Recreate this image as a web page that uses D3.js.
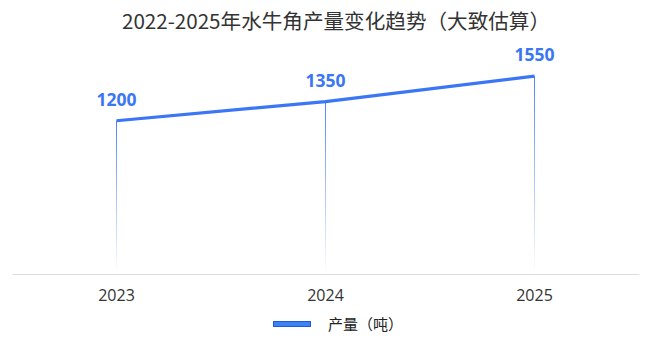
<!DOCTYPE html>
<html>
<head>
<meta charset="utf-8">
<script src="https://cdn.jsdelivr.net/npm/d3@7/dist/d3.min.js"></script>
<style>
  body { margin: 0; background: #fff; }
  text { font-family: "Noto Sans CJK SC", "Noto Sans", sans-serif; }
</style>
</head>
<body>
<div id="chart"></div>
<script>
(function(){
  'use strict';

  var years = ['2023', '2024', '2025'],
      output = [1200, 1350, 1550],
      seriesName = '产量（吨）',
      title = '2022-2025年水牛角产量变化趋势（大致估算）';

  var w = 650,
      h = 338,
      blue = '#3b76f6',
      svg = d3.select('#chart').append('svg')
        .attr('width', w)
        .attr('height', h);

  var x = d3.scaleBand()
      .domain(years)
      .range([12, 639]);

  var y = d3.scaleLinear()
      .domain([0, 2000])
      .range([274, 18.6]);

  var defs = svg.append('defs');
  var grad = defs.append('linearGradient')
      .attr('id', 'dropGrad')
      .attr('x1', 0).attr('y1', 0).attr('x2', 0).attr('y2', 1);
  grad.append('stop').attr('offset', '0%').attr('stop-color', blue).attr('stop-opacity', 0.9);
  grad.append('stop').attr('offset', '100%').attr('stop-color', blue).attr('stop-opacity', 0);

  // title
  svg.append('text')
    .attr('x', 336)
    .attr('y', 29)
    .attr('text-anchor', 'middle')
    .style('font-size', '20.6px')
    .style('fill', '#333')
    .text(title);

  // drop lines
  svg.selectAll('.drop')
    .data(output)
    .enter()
    .append('rect')
    .attr('class', 'drop')
    .attr('x', function(d, i) { return x(years[i]) + x.bandwidth() / 2 - 0.5; })
    .attr('y', function(d) { return y(d); })
    .attr('width', 1)
    .attr('height', function(d) { return y(0) - y(d); })
    .style('fill', 'url(#dropGrad)');

  // x axis
  var xAxis = d3.axisBottom(x).tickSize(0).tickPadding(16);
  var gx = svg.append('g')
    .attr('class', 'x axis')
    .attr('transform', 'translate(0,' + y(0) + ')')
    .call(xAxis);
  gx.select('.domain').attr('stroke', '#ddd');
  gx.selectAll('text')
    .style('font-size', '16px')
    .style('fill', '#333')
    .style('font-family', '"Open Sans", "Noto Sans", sans-serif');

  // line
  var line = d3.line()
    .x(function(d, i) { return x(years[i]) + x.bandwidth() / 2; })
    .y(function(d) { return y(d); });

  svg.append('path')
    .datum(output)
    .attr('d', line)
    .style('fill', 'none')
    .style('stroke', blue)
    .style('stroke-width', 3.2)
    .style('stroke-linejoin', 'round');

  // value labels
  svg.selectAll('.val')
    .data(output)
    .enter()
    .append('text')
    .attr('class', 'val')
    .attr('x', function(d, i) { return x(years[i]) + x.bandwidth() / 2; })
    .attr('y', function(d) { return y(d) - 15; })
    .attr('text-anchor', 'middle')
    .style('font-size', '17.5px')
    .style('font-weight', 'bold')
    .style('fill', blue)
    .style('font-family', '"Open Sans", "Noto Sans", sans-serif')
    .text(function(d) { return d; });

  // legend
  var lg = svg.append('g').attr('transform', 'translate(273,321)');
  lg.append('rect')
    .attr('x', 0.5).attr('y', 0.5)
    .attr('width', 37).attr('height', 5)
    .style('fill', '#3b82f6')
    .style('stroke', '#2156e0')
    .style('stroke-width', 1);
  lg.append('text')
    .attr('x', 55)
    .attr('y', 9)
    .style('font-size', '15px')
    .style('fill', '#222')
    .text(seriesName);
}());
</script>
</body>
</html>
